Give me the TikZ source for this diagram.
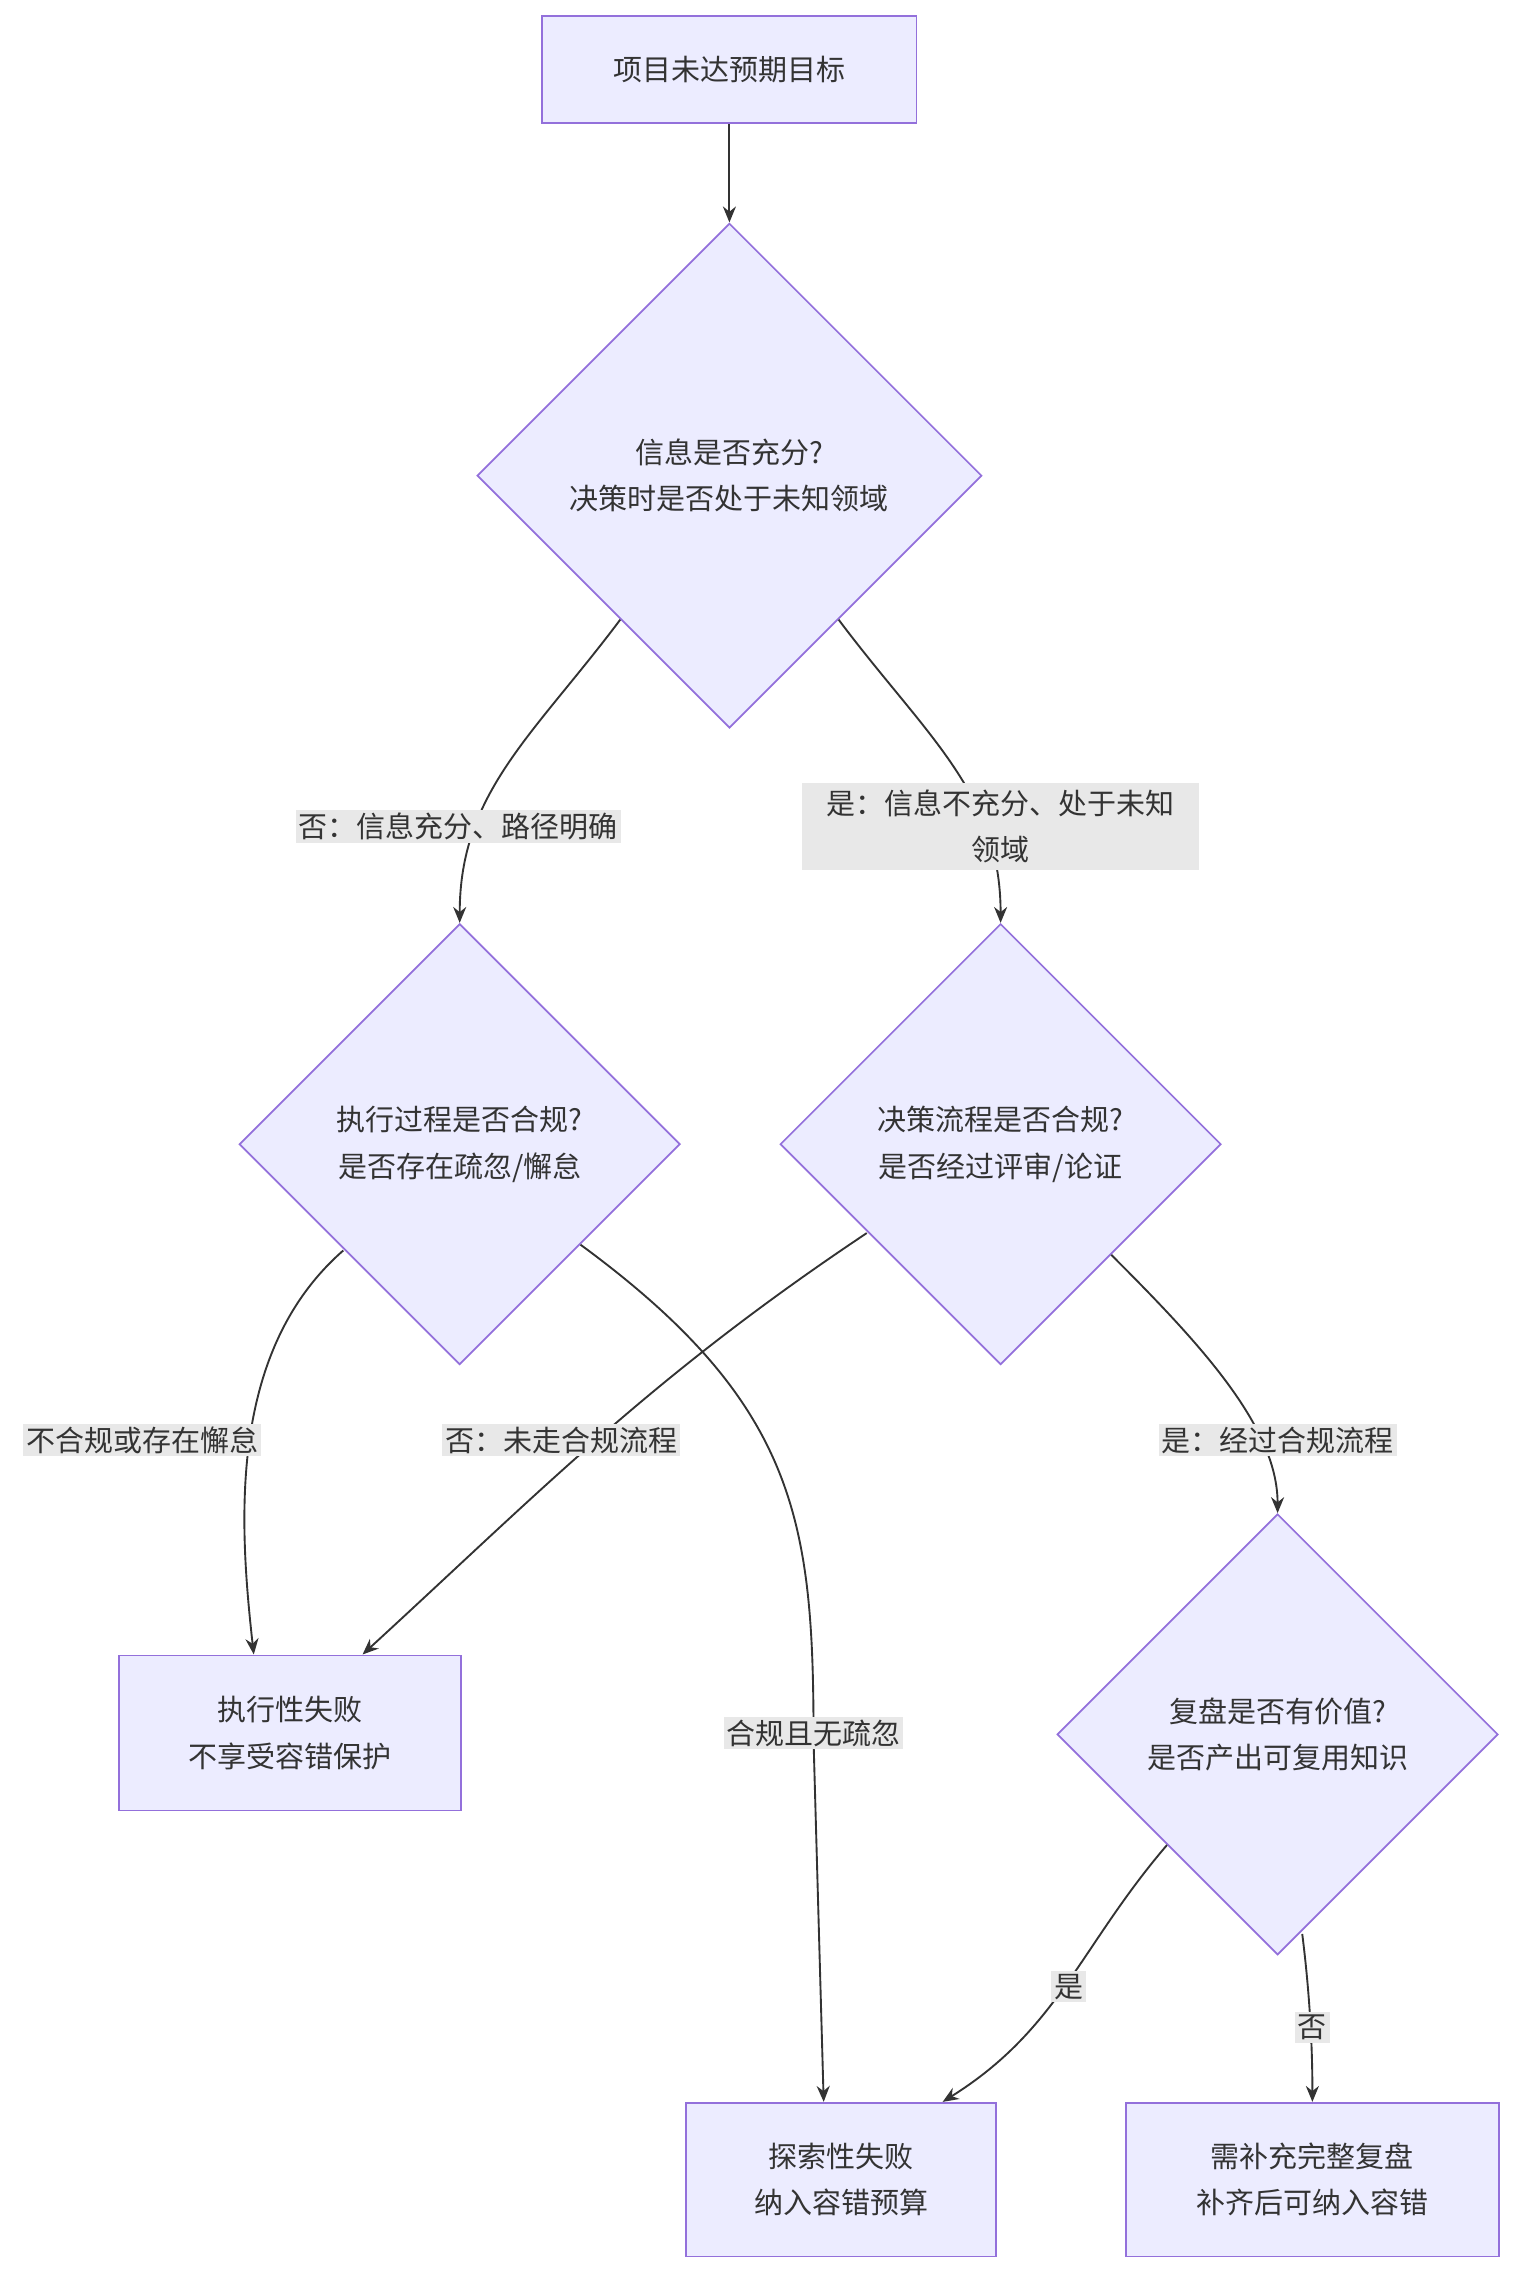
\documentclass[tikz,border=0pt]{standalone}
\usepackage{fontspec}
\setmainfont{Noto Sans CJK SC}
\usetikzlibrary{shapes.geometric,arrows.meta}
\definecolor{nfill}{HTML}{ECECFF}
\definecolor{nline}{HTML}{9370DB}
\definecolor{ink}{HTML}{333333}
\definecolor{lbg}{HTML}{E8E8E8}
\begin{document}
\begin{tikzpicture}[x=1pt,y=-1pt,
  every node/.style={font=\fontsize{20}{32}\selectfont,text=ink,align=center},
  box/.style={draw=nline,fill=nfill,line width=1.2pt,inner sep=0},
  dia/.style={draw=nline,fill=nfill,line width=1.2pt,diamond,aspect=1,inner sep=0,minimum width=348pt,minimum height=348pt},
  sdia/.style={dia,minimum width=304pt,minimum height=304pt},
  conn/.style={draw=ink,line width=1.3pt,-{Stealth[length=11pt,width=9pt]}},
  lbl/.style={fill=lbg,inner sep=2pt}]
\useasboundingbox (0,0) rectangle (1050,1575);
\node[box,minimum width=258pt,minimum height=74pt] (A) at (503,48) {项目未达预期目标};
\node[dia] (B) at (503,328) {信息是否充分?\\决策时是否处于未知领域};
\node[sdia] (C) at (317,789) {执行过程是否合规?\\是否存在疏忽/懈怠};
\node[sdia] (D) at (690,789) {决策流程是否合规?\\是否经过评审/论证};
\node[box,minimum width=236pt,minimum height=107pt] (E) at (200,1195) {执行性失败\\不享受容错保护};
\node[sdia] (F) at (881,1196) {复盘是否有价值?\\是否产出可复用知识};
\node[box,minimum width=214pt,minimum height=106pt] (G) at (580,1503) {探索性失败\\纳入容错预算};
\node[box,minimum width=257pt,minimum height=106pt] (H) at (905,1503) {需补充完整复盘\\补齐后可纳入容错};
\coordinate (m1) at (561,1200);
\draw[conn] (A) -- (B);
\draw[conn] ([shift={(12,12)}]B.south west) .. controls +(-60,80) and +(0,-90) .. (C.north);
\draw[conn] ([shift={(-12,12)}]B.south east) .. controls +(60,80) and +(0,-90) .. (D.north);
\draw[conn] ([shift={(-4,-3)}]C.south west) .. controls +(-80,70) and +(-10,-90) .. ([xshift=-25]E.north);
\draw[conn] ([shift={(-16,-15)}]D.south west) .. controls +(-150,100) and +(120,-110) .. ([xshift=50]E.north);
\draw[conn] ([shift={(7,-7)}]C.south east) .. controls +(150,110) and +(0,-150) .. (m1) -- ([xshift=-12]G.north);
\draw[conn] (D.south east) .. controls +(60,60) and +(0,-60) .. (F.north);
\draw[conn] (F.south west) .. controls +(-60,70) and +(80,-50) .. ([xshift=70]G.north);
\draw[conn] ([shift={(17,-15)}]F.south) .. controls +(5,40) and +(0,-40) .. (H.north);
\node[lbl] at (316,570) {否：信息充分、路径明确};
\node[lbl,text width=270pt,minimum height=60pt] at (690,570) {是：信息不充分、处于未知\\领域};
\node[lbl] at (98,993) {不合规或存在懈怠};
\node[lbl] at (387,993) {否：未走合规流程};
\node[lbl] at (561,1195) {合规且无疏忽};
\node[lbl] at (881,993) {是：经过合规流程};
\node[lbl] at (737,1370) {是};
\node[lbl] at (905,1398) {否};
\end{tikzpicture}
\end{document}
